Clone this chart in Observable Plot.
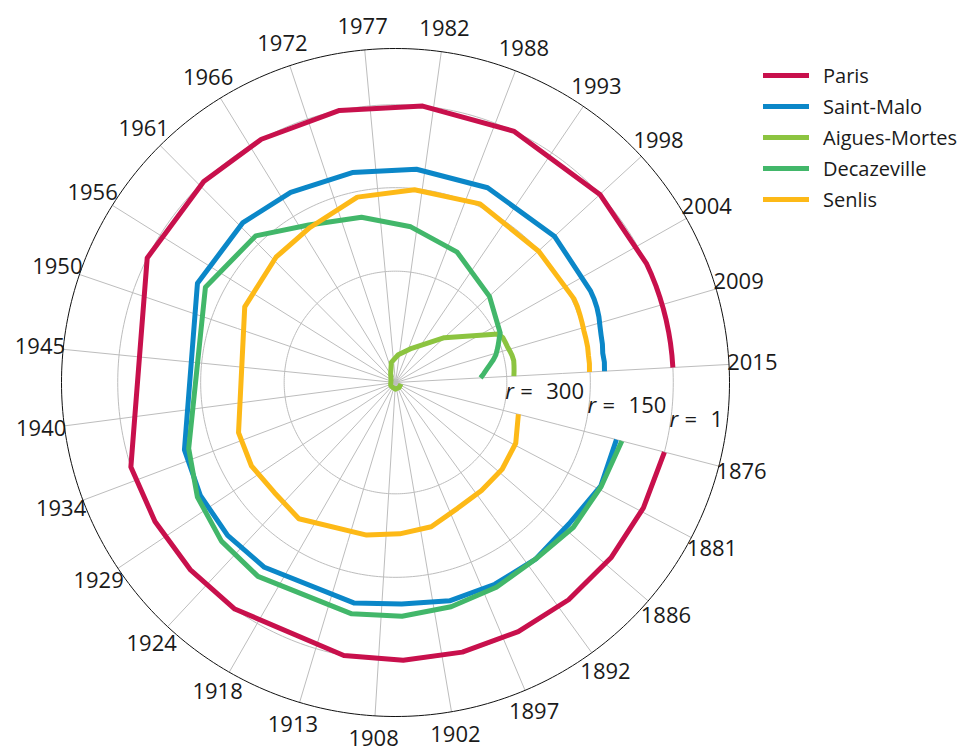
<!DOCTYPE html>
<html>
<head>
<meta charset="utf-8">
<script src="https://cdn.jsdelivr.net/npm/d3@7"></script>
<script src="https://cdn.jsdelivr.net/npm/@observablehq/plot@0.6"></script>
<style>
  body { margin: 0; background: #fff; font-family: "Open Sans", sans-serif; }
  #wrap { position: relative; width: 966px; height: 751px; }
  #legend { position: absolute; left: 763px; top: 60px; }
  .row { display: flex; align-items: center; height: 31px; }
  .sw { width: 46px; height: 5px; margin-right: 14px; }
  .lab { font-size: 20px; color: #1a1a1a; line-height: 31px; }
</style>
</head>
<body>
<div id="wrap"><div id="chart"></div><div id="legend"></div></div>
<script>
// ---- data ----
const cities = ["Paris", "Saint-Malo", "Aigues-Mortes", "Decazeville", "Senlis"];
const colors = ["#c8104c", "#0b87c8", "#8cc440", "#42b76a", "#fdb917"];

const years = [1876, 1881, 1886, 1891, 1896, 1901, 1906, 1911, 1921, 1926, 1931, 1936,
  1954, 1962, 1968, 1975, 1982, 1990, 1999, 2006, 2007, 2008, 2009, 2010, 2011, 2012, 2013, 2014, 2015];

const paris = [1, 1, 1, 1, 1, 1, 1, 1, 1, 1, 1, 1, 1, 1, 1, 1, 1, 1, 1, 1, 1, 1, 1, 1, 1, 1, 1, 1, 1];
const saintMalo = [90, 87, 98, 95, 96, 96, 102, 97, 93, 92, 95, 102, 102, 103, 110, 115, 115, 113, 112,
  113, 113, 114, 116, 119, 121, 122, 124, 123, 124];
const aiguesMortes = [490, 490, 490, 489, 489, 489, 488, 489, 490, 490, 490, 491, 491, 488, 482, 463, 450, 432, 381,
  296, 291, 290, 289, 287, 285, 284, 285, 286, 287];
const decazeville = [80, 86, 88, 95, 90, 85, 80, 77, 73, 77, 89, 110, 118, 136, 177, 197, 219, 241, 271,
  292, 298, 303, 308, 313, 320, 328, 335, 341, 347];
const senlis = [272, 258, 253, 252, 248, 233, 228, 221, 200, 206, 201, 204, 197, 189, 182, 160, 152, 145, 151,
  146, 146, 147, 148, 149, 149, 149, 150, 150, 151];

const tickLabels = [1876, 1881, 1886, 1892, 1897, 1902, 1908, 1913, 1918, 1924, 1929, 1934, 1940, 1945,
  1950, 1956, 1961, 1966, 1972, 1977, 1982, 1988, 1993, 1998, 2004, 2009, 2015];
const rankTicks = [1, 150, 300];

// ---- polar mapping (projection coordinates) ----
const series = [paris, saintMalo, aiguesMortes, decazeville, senlis];
const rows = [];
cities.forEach((c, ci) => years.forEach((y, i) => rows.push({city: c, year: y, rank: series[ci][i]})));

const tickPos = tickLabels.map((_, i) => 1876 + i * 139 / 26);
const lon = year => 93.1 + (2015 - year) * 2.4633;   // clockwise with time
const lat = rank => 40 + rank / 10;                  // rank 500 at centre, rank -100 at the rim
const OUTER = 30, LABEL = 90 - 64.2, RLABEL_LON = 80.4;

const ringLon = d3.range(0, 360, 1);
const gridRings = rankTicks.flatMap(r => ringLon.map(l => ({ring: r, l, b: lat(r)})));
const rimRing = ringLon.map(l => ({l, b: OUTER}));
const domainCircle = d3.geoCircle().center([0, 90]).radius(60).precision(1)();

const rLabels = rankTicks.map(r => ({lo: RLABEL_LON, la: lat(r), v: r}));
const rText = {x: "lo", y: "la", fontSize: 22, textAnchor: "start", lineAnchor: "middle", dy: -9, fill: "#1a1a1a"};

const chart = Plot.plot({
  width: 966,
  height: 751,
  marginLeft: 61,
  marginRight: 237,
  marginTop: 48,
  marginBottom: 35,
  style: {fontFamily: "Open Sans", background: "#fff"},
  projection: {
    type: "azimuthal-equidistant",
    rotate: [0, -90],
    domain: domainCircle,
    clip: false
  },
  color: {domain: cities, range: colors},
  marks: [
    Plot.line(gridRings, {x: "l", y: "b", z: "ring", curve: "linear-closed", stroke: "#bdbdbd", strokeWidth: 1}),
    Plot.link(tickPos, {x1: d => lon(d), y1: () => 89.9999, x2: d => lon(d), y2: () => OUTER,
      stroke: "#bdbdbd", strokeWidth: 1}),
    Plot.line(rimRing, {x: "l", y: "b", curve: "linear-closed", stroke: "#111", strokeWidth: 1}),
    Plot.line(rows, {x: d => lon(d.year), y: d => lat(d.rank), z: "city", stroke: "city",
      strokeWidth: 5, curve: "linear", strokeLinecap: "butt", strokeLinejoin: "round"}),
    Plot.text(tickPos, {x: d => lon(d), y: () => LABEL, text: (d, i) => String(tickLabels[i]),
      fontSize: 22, textAnchor: "middle", lineAnchor: "middle", fill: "#1a1a1a"}),
    Plot.text(rLabels, {...rText, text: () => "r", fontStyle: "italic"}),
    Plot.text(rLabels, {...rText, text: () => "=", dx: 15}),
    Plot.text(rLabels, {...rText, text: d => String(d.v), dx: 41})
  ]
});
document.getElementById("chart").appendChild(chart);

// ---- legend ----
const legend = document.getElementById("legend");
cities.forEach((c, i) => {
  const row = document.createElement("div");
  row.className = "row";
  row.innerHTML = `<div class="sw" style="background:${colors[i]}"></div><div class="lab">${c}</div>`;
  legend.appendChild(row);
});
</script>
</body>
</html>
